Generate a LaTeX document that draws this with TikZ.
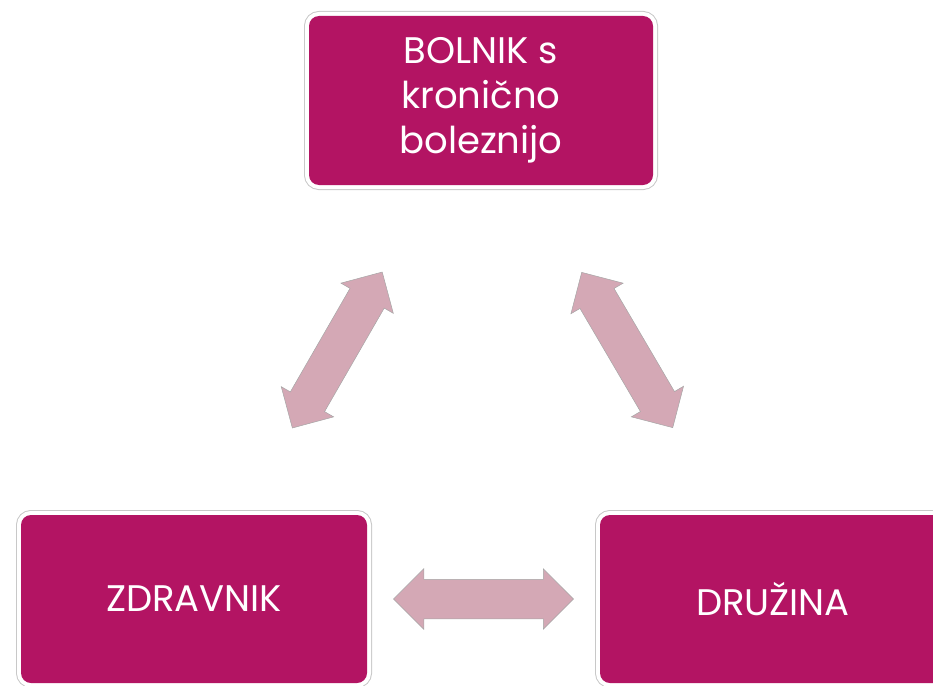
\documentclass[tikz,border=0pt]{standalone}
\usepackage{fontspec}
\setmainfont{Poppins}
\usetikzlibrary{shapes.arrows}
\definecolor{berry}{RGB}{179,20,99}
\definecolor{rosearrow}{RGB}{212,168,181}
\definecolor{rimgray}{RGB}{200,200,200}
\begin{document}
\begin{tikzpicture}[x=1pt,y=-1pt,
    box/.style={rectangle, rounded corners=10pt, fill=berry, text=white, align=center,
        inner sep=0pt, font=\fontsize{37}{45}\selectfont,
        preaction={draw=rimgray, line width=10pt},
        preaction={draw=white, line width=8pt}},
    dblarr/.style={double arrow, fill=rosearrow, draw=gray!70, line width=0.5pt,
        inner xsep=0pt, inner ysep=19.5pt, minimum height=180pt, minimum width=60pt,
        double arrow head extend=10.5pt, double arrow tip angle=90}]
    \useasboundingbox (0,0) rectangle (933,685);
    \clip (0,0) rectangle (933,685);
    \node[box, minimum width=344pt, minimum height=169pt] (bolnik) at (481,100.5)
        {BOLNIK s\\kronično\\boleznijo};
    \node[box, minimum width=346pt, minimum height=168pt] (zdravnik) at (194,599) {ZDRAVNIK};
    \node[box, minimum width=346pt, minimum height=168pt] (druzina) at (773,599) {DRUŽINA};
    \path (bolnik) -- node[dblarr, sloped] {} (zdravnik);
    \path (bolnik) -- node[dblarr, sloped] {} (druzina);
    \path (zdravnik) -- node[dblarr] {} (druzina);
\end{tikzpicture}
\end{document}
